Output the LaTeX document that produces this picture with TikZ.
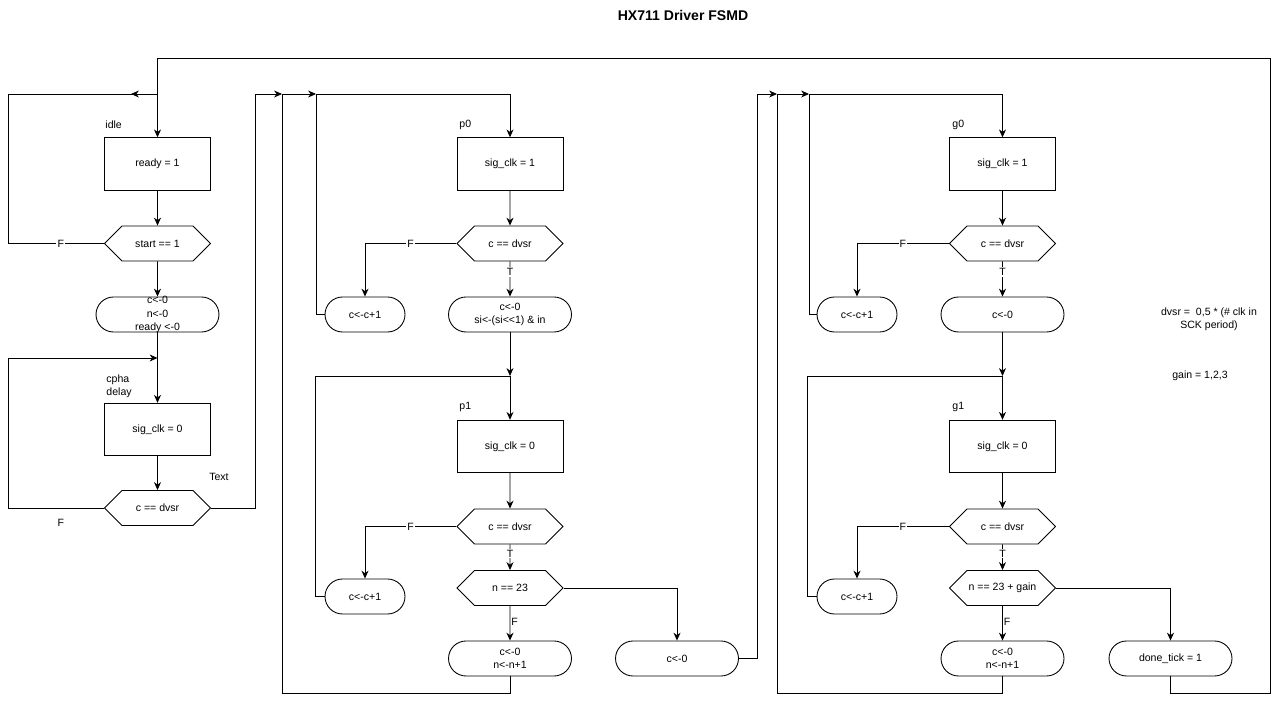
\documentclass[tikz,border=0pt]{standalone}
\usepackage{fontspec}
\setmainfont{Liberation Sans}
\usetikzlibrary{arrows.meta,shapes.symbols}

\begin{document}
\begin{tikzpicture}[x=0.02cm, y=-0.02cm, font=\fontsize{6}{7.6}\selectfont,
        >={Stealth[length=4.5pt,width=4pt]}, line width=0.5pt,
        state/.style={ draw, minimum width=2.12cm, minimum height=1.05cm,
        inner sep=1pt }, test/.style={ draw, signal, signal to=east and west,
        signal pointer angle=90, minimum width=2.12cm, minimum height=0.7cm,
        inner sep=1pt }, action/.style={ draw, rounded corners=3.5mm, minimum
        width=2.46cm, minimum height=0.7cm, align=center, inner sep=1pt },
        count/.style={ action, minimum width=1.6cm }, arrow/.style={->},
        lbl/.style={ fill=white, inner sep=0.6pt }, tag/.style={ anchor=west,
        align=left, inner sep=0pt } ]

    \useasboundingbox (0,0) rectangle (1279,702);

    \node[font=\fontsize{8}{9.6}\selectfont\bfseries] (title) at (683,15)
    {HX711 Driver FSMD};

    \node[tag] (idletag) at (105,124.5) {idle}; \node[state] (idle) at
    (157.5,164) {ready = 1}; \node[test] (startq) at (157.5,243.5) {start ==
    1}; \node[action, inner ysep=-1pt] (reset) at (157.5,314.5)
    {c<-0\\n<-0\\ready <-0}; \node[tag] (cphatag) at (106,386)
    {cpha\\delay}; \node[state] (cpha) at (157.5,429.5) {sig\_clk = 0};
    \node[test] (cphaq) at (157.5,508) {c == dvsr}; \node (stray) at
    (219,477) {Text};

    \node[tag] (p0tag) at (459,124.5) {p0}; \node[state] (p0) at (510,164)
    {sig\_clk = 1}; \node[test] (p0q) at (510,243.5) {c == dvsr};
    \node[count] (p0inc) at (365,314.5) {c<-c+1}; \node[action] (p0clr) at
    (510,314.5) {c<-0\\si<-(si<\kern0pt<1) \& in};

    \node[tag] (p1tag) at (459,407) {p1}; \node[state] (p1) at (510,446.5)
    {sig\_clk = 0}; \node[test] (p1q) at (510,526.5) {c == dvsr};
    \node[count] (p1inc) at (365,596.5) {c<-c+1}; \node[test] (p1nq) at
    (510,588) {n == 23}; \node[action] (p1next) at (510,658.5)
    {c<-0\\n<-n+1}; \node[action] (p1done) at (677,658.5) {c<-0};

    \node[tag] (g0tag) at (952,124.5) {g0}; \node[state] (g0) at (1002.5,164)
    {sig\_clk = 1}; \node[test] (g0q) at (1002.5,243.5) {c == dvsr};
    \node[count] (g0inc) at (857,314.5) {c<-c+1}; \node[action] (g0clr) at
    (1002.5,314.5) {c<-0};

    \node[tag] (g1tag) at (952,407) {g1}; \node[state] (g1) at (1002.5,446.5)
    {sig\_clk = 0}; \node[test] (g1q) at (1002.5,526.5) {c == dvsr};
    \node[count] (g1inc) at (857,596.5) {c<-c+1}; \node[test] (g1nq) at
    (1002.5,588) {n == 23 + gain}; \node[action] (g1next) at (1002.5,658.5)
    {c<-0\\n<-n+1}; \node[action] (done) at (1170.5,658.5) {done\_tick = 1};

    \node[align=center] (dvsrnote) at (1209,319.5) {dvsr =\ \ 0,5 * (\# clk
    in\\SCK period)}; \node (gainnote) at (1200,376) {gain = 1,2,3};

    \coordinate (idlejoin) at (157.5,94); \coordinate (idletip) at (131,94);
    \coordinate (cphajoin) at (157.5,358); \coordinate (rowA) at (282,94);
    \coordinate (rowB) at (316,94); \coordinate (p1join) at (510,376);
    \coordinate (rowC) at (777,94); \coordinate (rowD) at (809,94);
    \coordinate (g1join) at (1002.5,376);

    \draw[arrow] (done.south) -- (1170.5,693) -| (1270,58) -| (idle.north);
    \draw[arrow] (idle) -- (startq); \draw (startq.west) --
    node[lbl,pos=0.45]{F} (8,243.5) |- (idlejoin); \draw[arrow] (idlejoin) --
    (idletip); \draw[arrow] (startq) -- (reset); \draw[arrow] (reset) --
    (cpha); \draw[arrow] (cpha) -- (cphaq); \draw[arrow] (cphaq.west) --
    node[below=3pt,pos=0.45]{F} (8,508) |- (cphajoin); \draw[arrow]
    (cphaq.east) -| (255,94) -- (rowA);

    \draw[arrow] (p1next.south) -- (510,693) -| (rowA) -- (rowB);
    \draw[arrow] (p0inc.west) -| (rowB) -| (p0.north); \draw[arrow] (p0) --
    (p0q); \draw[arrow] (p0q.west) -| node[lbl,pos=0.25]{F} (p0inc.north);
    \draw[arrow] (p0q) -- node[lbl,pos=0.3]{T} (p0clr); \draw[arrow] (p0clr)
    -- (p1join); \draw[arrow] (p1join) -- (p1); \draw (p1inc.west) --
    ++(-9,0) |- (p1join); \draw[arrow] (p1) -- (p1q); \draw[arrow]
    (p1q.west) -| node[lbl,pos=0.25]{F} (p1inc.north); \draw[arrow] (p1q) --
    node[lbl,pos=0.35]{T} (p1nq); \draw[arrow] (p1nq) --
    node[right,inner sep=0.5pt,pos=0.45]{F} (p1next); \draw[arrow]
    (p1nq.east) -| (p1done.north); \draw[arrow] (p1done.east) -| (757,94) --
    (rowC);

    \draw[arrow] (g1next.south) -- (1002.5,693) -| (rowC) -- (rowD);
    \draw[arrow] (g0inc.west) -| (rowD) -| (g0.north); \draw[arrow] (g0) --
    (g0q); \draw[arrow] (g0q.west) -| node[lbl,pos=0.25]{F} (g0inc.north);
    \draw[arrow] (g0q) -- node[lbl,pos=0.3]{T} (g0clr); \draw[arrow] (g0clr)
    -- (g1join); \draw[arrow] (g1join) -- (g1); \draw (g1inc.west) --
    ++(-9,0) |- (g1join); \draw[arrow] (g1) -- (g1q); \draw[arrow]
    (g1q.west) -| node[lbl,pos=0.25]{F} (g1inc.north); \draw[arrow] (g1q) --
    node[lbl,pos=0.35]{T} (g1nq); \draw[arrow] (g1nq) --
    node[right,inner sep=0.5pt,pos=0.45]{F} (g1next); \draw[arrow]
    (g1nq.east) -| (done.north);

  \end{tikzpicture}
\end{document}
